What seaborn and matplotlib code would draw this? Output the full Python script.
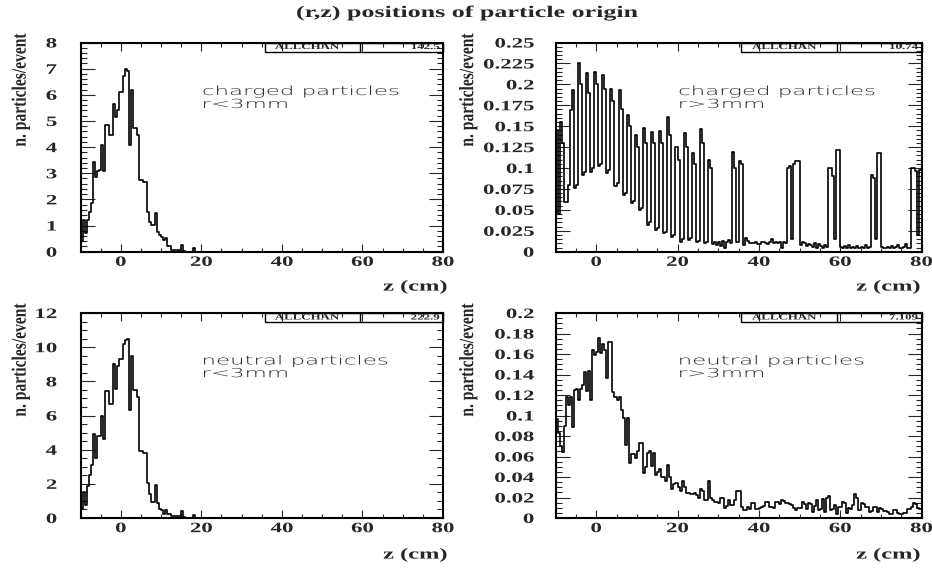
import numpy as np
import pandas as pd
import matplotlib
matplotlib.use("Agg")
import matplotlib.pyplot as plt
import seaborn as sns
from matplotlib.patheffects import AbstractPathEffect
from matplotlib.transforms import Affine2D
from matplotlib.patches import Rectangle
from matplotlib.ticker import MultipleLocator, FuncFormatter

# ---------------------------------------------------------------- data
Z_MIN, Z_MAX = -10.0, 80.0          # z range in cm, 0.5 cm bins

charged_in = [
    0.42, 1.23, 0.70, 1.20, 1.50, 1.85, 3.44, 2.87, 3.10, 3.12,
    4.08, 3.10, 4.85, 4.85, 4.46, 4.46, 5.65, 5.17, 5.40, 6.12,
    6.10, 6.70, 6.98, 6.90, 4.08, 6.20, 4.72, 4.72, 4.46, 2.74,
    2.74, 2.68, 2.68, 1.53, 1.15, 1.02, 1.02, 1.47, 0.77, 0.64,
    0.57, 0.45, 0.51, 0.22, 0.22, 0.06, 0.06, 0.06, 0.06, 0.06,
    0.26, 0.02, 0.00, 0.00, 0.00, 0.00, 0.13, 0.00, 0.00, 0.00,
] + [0.0] * 120

charged_out = [
    0.145, 0.045, 0.155, 0.130, 0.059, 0.059, 0.080, 0.169, 0.193, 0.076,
    0.080, 0.225, 0.200, 0.092, 0.095, 0.213, 0.190, 0.095, 0.100, 0.215,
    0.200, 0.102, 0.105, 0.211, 0.195, 0.094, 0.098, 0.194, 0.180, 0.079,
    0.082, 0.193, 0.170, 0.068, 0.070, 0.163, 0.150, 0.058, 0.060, 0.140,
    0.125, 0.050, 0.052, 0.148, 0.130, 0.032, 0.035, 0.143, 0.130, 0.026,
    0.028, 0.144, 0.130, 0.022, 0.024, 0.161, 0.140, 0.018, 0.020, 0.125,
    0.110, 0.012, 0.015, 0.142, 0.125, 0.014, 0.016, 0.118, 0.105, 0.012,
    0.013, 0.147, 0.130, 0.010, 0.011, 0.109, 0.100, 0.009, 0.012, 0.008,
    0.011, 0.007, 0.013, 0.004, 0.011, 0.014, 0.010, 0.119, 0.100, 0.012,
    0.108, 0.105, 0.008, 0.016, 0.013, 0.010, 0.010, 0.010, 0.012, 0.009,
    0.009, 0.011, 0.012, 0.010, 0.009, 0.012, 0.015, 0.010, 0.012, 0.010,
    0.011, 0.004, 0.011, 0.010, 0.100, 0.102, 0.015, 0.105, 0.108, 0.108,
    0.008, 0.011, 0.010, 0.007, 0.009, 0.008, 0.006, 0.010, 0.005, 0.009,
    0.007, 0.004, 0.008, 0.006, 0.100, 0.100, 0.090, 0.015, 0.122, 0.122,
    0.006, 0.005, 0.007, 0.004, 0.008, 0.005, 0.006, 0.004, 0.007, 0.005,
    0.006, 0.004, 0.008, 0.005, 0.006, 0.092, 0.088, 0.015, 0.118, 0.118,
    0.006, 0.005, 0.004, 0.006, 0.005, 0.007, 0.004, 0.006, 0.008, 0.005,
    0.004, 0.006, 0.009, 0.004, 0.005, 0.100, 0.100, 0.097, 0.020, 0.098,
]

neutral_in = [
    0.55, 1.54, 0.75, 1.90, 2.50, 3.10, 4.90, 3.50, 4.80, 4.80,
    6.00, 4.60, 7.46, 7.46, 6.70, 6.70, 9.00, 7.56, 8.90, 9.30,
    9.30, 10.20, 10.40, 10.46, 6.30, 9.50, 7.50, 7.50, 7.07, 3.90,
    3.90, 3.80, 3.80, 2.03, 1.38, 0.95, 0.95, 1.93, 0.85, 0.55,
    0.45, 0.26, 0.45, 0.26, 0.26, 0.10, 0.10, 0.10, 0.10, 0.10,
    0.40, 0.05, 0.00, 0.00, 0.00, 0.00, 0.16, 0.00, 0.00, 0.00,
] + [0.0] * 120

neutral_out = [
    0.097, 0.083, 0.070, 0.064, 0.090, 0.118, 0.110, 0.118, 0.089, 0.125,
    0.126, 0.115, 0.126, 0.130, 0.142, 0.124, 0.143, 0.115, 0.164, 0.159,
    0.162, 0.176, 0.161, 0.170, 0.164, 0.137, 0.172, 0.172, 0.123, 0.118,
    0.115, 0.118, 0.105, 0.098, 0.071, 0.098, 0.054, 0.062, 0.062, 0.059,
    0.065, 0.073, 0.073, 0.044, 0.050, 0.063, 0.065, 0.051, 0.063, 0.042,
    0.045, 0.048, 0.040, 0.040, 0.036, 0.052, 0.040, 0.028, 0.033, 0.034,
    0.030, 0.026, 0.036, 0.030, 0.024, 0.024, 0.023, 0.023, 0.024, 0.022,
    0.020, 0.028, 0.026, 0.018, 0.018, 0.036, 0.020, 0.018, 0.016, 0.016,
    0.015, 0.020, 0.020, 0.010, 0.012, 0.018, 0.013, 0.013, 0.018, 0.026,
    0.026, 0.011, 0.008, 0.008, 0.011, 0.009, 0.015, 0.015, 0.009, 0.009,
    0.010, 0.011, 0.012, 0.016, 0.016, 0.011, 0.011, 0.010, 0.016, 0.016,
    0.014, 0.018, 0.017, 0.015, 0.015, 0.014, 0.013, 0.010, 0.008, 0.010,
    0.010, 0.016, 0.014, 0.009, 0.015, 0.014, 0.006, 0.012, 0.018, 0.008,
    0.009, 0.019, 0.006, 0.020, 0.021, 0.008, 0.009, 0.013, 0.004, 0.011,
    0.011, 0.016, 0.015, 0.005, 0.010, 0.009, 0.013, 0.023, 0.020, 0.008,
    0.015, 0.014, 0.011, 0.011, 0.006, 0.007, 0.011, 0.011, 0.006, 0.010,
    0.009, 0.007, 0.007, 0.006, 0.004, 0.004, 0.008, 0.008, 0.005, 0.004,
    0.004, 0.005, 0.005, 0.009, 0.009, 0.011, 0.015, 0.014, 0.010, 0.009,
]

species = ["charged particles", "charged particles",
           "neutral particles", "neutral particles"]
radial_cuts = ["r<3mm", "r>3mm", "r<3mm", "r>3mm"]
stat_values = ["142.5", "10.74", "222.9", "7.109"]
y_limits = [8, 0.25, 12, 0.2]
y_major_steps = [1, 0.025, 2, 0.02]
y_minor_steps = [0.2, 0.005, 0.5, 0.005]
series = [charged_in, charged_out, neutral_in, neutral_out]

title = "(r,z) positions of particle origin"
x_label = "z (cm)"
y_label = "n. particles/event"


# ------------------------------------------------------------ helpers
class Stretch(AbstractPathEffect):
    """Scale glyph outlines in text-local coordinates around an anchor."""

    def __init__(self, sx=1.0, sy=1.0, anchor="center"):
        super().__init__()
        self.sx, self.sy, self.anchor = sx, sy, anchor

    def draw_path(self, renderer, gc, tpath, affine, rgbFace=None):
        ext = tpath.get_extents()
        if self.anchor == "left":
            cx = ext.x0
        elif self.anchor == "right":
            cx = ext.x1
        else:
            cx = 0.5 * (ext.x0 + ext.x1)
        cy = 0.5 * (ext.y0 + ext.y1)
        local = (Affine2D().translate(-cx, -cy)
                 .scale(self.sx, self.sy).translate(cx, cy))
        renderer.draw_path(gc, tpath, local + affine, rgbFace)


sns.set_style("white")
plt.rcParams["font.family"] = ["Liberation Serif", "DejaVu Serif"]

W, H = 932, 573
fig = plt.figure(figsize=(W / 100, H / 100), dpi=100)

# panel frames in pixels: left, top, right, bottom
frames = [(80.5, 42.5, 443.0, 251.7), (555.5, 42.5, 921.5, 251.7),
          (80.5, 313.0, 443.0, 518.0), (555.5, 313.0, 921.5, 518.0)]
ytick_pads = [17, 15.5, 17, 15.5]
ylabel_x = [20.5, 468, 20.5, 468]
ylabel_top = [34, 34, 304, 304]
xlabel_y = [287, 287, 555, 555]
xlabel_right = [447, 920, 447, 920]

edges = np.linspace(Z_MIN, Z_MAX, len(charged_in) + 1)
centers = 0.5 * (edges[:-1] + edges[1:])

SX = 1.6
TICK_FS = 10.3
for k in range(4):
    l, t, r, b = frames[k]
    ax = fig.add_axes([l / W, 1 - b / H, (r - l) / W, (b - t) / H])
    hist_df = pd.DataFrame({"z": centers, "n": series[k]})
    sns.histplot(data=hist_df, x="z", weights="n", bins=list(edges),
                 element="step", fill=False, color="black", linewidth=1.2,
                 ax=ax)
    ax.set_xlim(Z_MIN, Z_MAX)
    ax.set_ylim(0, y_limits[k])
    ax.set_xlabel("")
    ax.set_ylabel("")

    for sp in ax.spines.values():
        sp.set_visible(True)
        sp.set_linewidth(1.5)
        sp.set_color("black")

    ax.xaxis.set_major_locator(MultipleLocator(20))
    ax.xaxis.set_minor_locator(MultipleLocator(5))
    ax.yaxis.set_major_locator(MultipleLocator(y_major_steps[k]))
    ax.yaxis.set_minor_locator(MultipleLocator(y_minor_steps[k]))
    ax.yaxis.set_major_formatter(FuncFormatter(lambda v, p: f"{v:g}"))
    ax.xaxis.set_major_formatter(FuncFormatter(lambda v, p: f"{v:g}"))

    ax.tick_params(axis="x", which="major", direction="in", length=6,
                   width=0.8, top=True, bottom=True, labelsize=TICK_FS,
                   pad=3.0)
    ax.tick_params(axis="x", which="minor", direction="in", length=3,
                   width=0.8, top=True, bottom=True)
    ax.tick_params(axis="y", which="major", direction="in", length=10,
                   width=0.8, left=True, right=True, labelsize=TICK_FS,
                   pad=ytick_pads[k])
    ax.tick_params(axis="y", which="minor", direction="in", length=4.5,
                   width=0.8, left=True, right=True)
    for lab in ax.get_xticklabels():
        lab.set_fontweight("bold")
        lab.set_path_effects([Stretch(SX, 1.0, "center")])
    for lab in ax.get_yticklabels():
        lab.set_fontweight("bold")
        lab.set_path_effects([Stretch(SX, 1.0, "right")])

    # statistics box in the upper right corner
    hfrac = 9.0 / (b - t)
    x0, xdiv = 0.508, 0.77
    ax.add_patch(Rectangle((x0, 1 - hfrac), 1 - x0, hfrac,
                           transform=ax.transAxes, fill=False, lw=1.0,
                           ec="black", clip_on=False, zorder=5))
    ax.plot([xdiv, xdiv], [1 - hfrac, 1], transform=ax.transAxes,
            color="black", lw=1.0, clip_on=False, zorder=5)
    ax.text((x0 + xdiv) / 2 - 0.015, 1 - hfrac / 2, "ALLCHAN",
            transform=ax.transAxes, ha="center", va="center", fontsize=5.8,
            fontweight="bold", path_effects=[Stretch(SX, 1.0, "center")])
    ax.text(0.99, 1 - hfrac / 2, stat_values[k], transform=ax.transAxes,
            ha="right", va="center", fontsize=5.8, fontweight="bold",
            path_effects=[Stretch(SX, 1.0, "right")])

    # description of the selection
    ax.text(0.337, 0.749, species[k], transform=ax.transAxes, ha="left",
            va="baseline", fontsize=9.0, family=["DejaVu Sans"],
            fontweight="light", path_effects=[Stretch(1.83, 1.0, "left")])
    ax.text(0.337, 0.687, radial_cuts[k], transform=ax.transAxes, ha="left",
            va="baseline", fontsize=9.0, family=["DejaVu Sans"],
            fontweight="light", path_effects=[Stretch(1.83, 1.0, "left")])

    fig.text(xlabel_right[k] / W, 1 - xlabel_y[k] / H, x_label,
             ha="right", va="center", fontsize=11, fontweight="bold",
             path_effects=[Stretch(SX, 1.0, "right")])
    fig.text(ylabel_x[k] / W, 1 - ylabel_top[k] / H, y_label,
             rotation=90, ha="center", va="top", fontsize=11.2,
             fontweight="bold", path_effects=[Stretch(1.0, 1.3, "center")])

fig.text(467 / W, 1 - 13 / H, title, ha="center", va="center",
         fontsize=11.7, fontweight="bold",
         path_effects=[Stretch(SX, 1.0, "center")])

fig.savefig("out.png", dpi=100)
